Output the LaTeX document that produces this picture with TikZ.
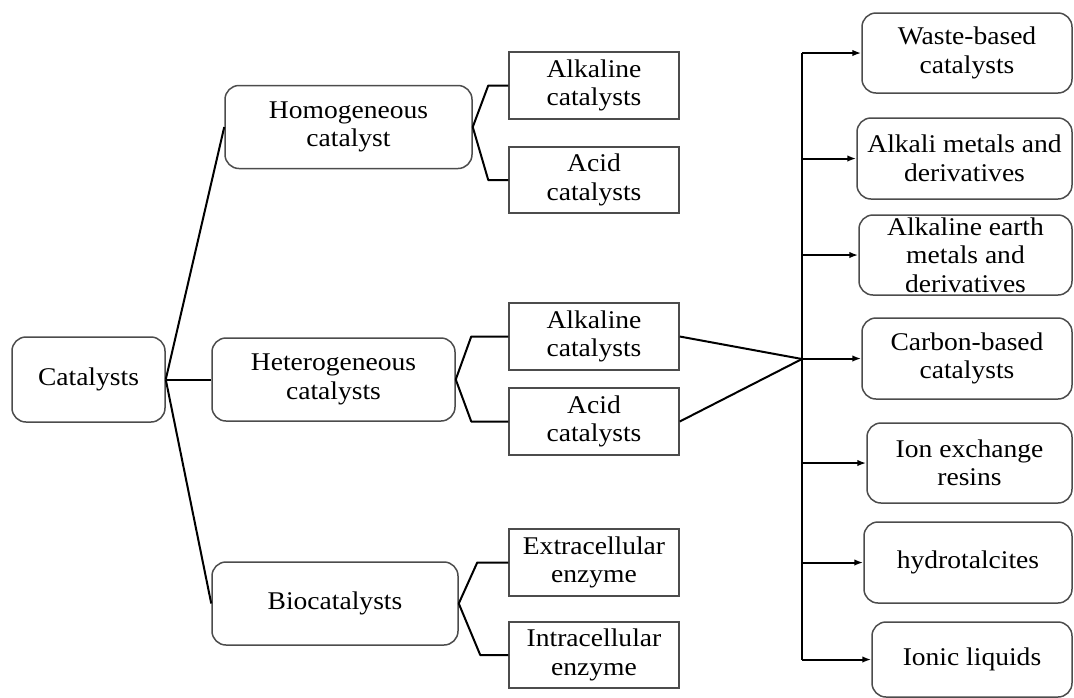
\documentclass[tikz,border=0pt]{standalone}
\usepackage{fontspec}
\setmainfont{Liberation Serif}[FakeStretch=1.08]
\usetikzlibrary{arrows.meta}
\begin{document}
\begin{tikzpicture}[x=1pt,y=-1pt,
  every node/.style={font=\fontsize{25.5}{28.5}\selectfont, align=center, inner sep=0pt},
  rbox/.style={draw=black!70, line width=1.5pt, rounded corners=14pt},
  sbox/.style={draw=black!70, line width=1.5pt},
  conn/.style={line width=2pt, draw=black, line join=round},
  arr/.style={conn, -{Latex[length=9pt,width=6.5pt]}}]
\useasboundingbox (0,0) rectangle (1074,697);

% left level
\node[rbox, minimum width=153, minimum height=85] (cat) at (88.5,379.5) {Catalysts};
\node[rbox, minimum width=247, minimum height=83] (homo) at (348.5,127) {Homogeneous\\catalyst};
\node[rbox, minimum width=243, minimum height=83] (hetero) at (333.5,379.5) {Heterogeneous\\catalysts};
\node[rbox, minimum width=246, minimum height=83] (bio) at (335,603.5) {Biocatalysts};

% second level
\node[sbox, minimum width=170, minimum height=67] (alk1) at (594,85.5) {Alkaline\\catalysts};
\node[sbox, minimum width=170, minimum height=66] (acid1) at (594,180) {Acid\\catalysts};
\node[sbox, minimum width=170, minimum height=67] (alk2) at (594,336.5) {Alkaline\\catalysts};
\node[sbox, minimum width=170, minimum height=67] (acid2) at (594,421.5) {Acid\\catalysts};
\node[sbox, minimum width=170, minimum height=67] (extra) at (594,562.5) {Extracellular\\enzyme};
\node[sbox, minimum width=170, minimum height=66] (intra) at (594,655) {Intracellular\\enzyme};

% right column
\node[rbox, minimum width=210, minimum height=80] (waste) at (967,53) {Waste-based\\catalysts};
\node[rbox, minimum width=215, minimum height=81] (alkali) at (964.5,158.5) {Alkali metals and\\derivatives};
\node[rbox, minimum width=213, minimum height=80] (earth) at (965.5,255) {Alkaline earth\\metals and\\derivatives};
\node[rbox, minimum width=210, minimum height=81] (carbon) at (967,358.5) {Carbon-based\\catalysts};
\node[rbox, minimum width=205, minimum height=80] (ion) at (969.5,463) {Ion exchange\\resins};
\node[rbox, minimum width=208, minimum height=81] (hydro) at (968,562.5) {hydrotalcites};
\node[rbox, minimum width=200, minimum height=75] (ionic) at (972,659.5) {Ionic liquids};

% connectors from Catalysts
\draw[conn] (cat.east) -- (homo.west);
\draw[conn] (cat.east) -- (hetero.west);
\draw[conn] (cat.east) -- (bio.west);

% brackets
\draw[conn] (alk1.west) -- ++(-20,0) -- (homo.east) -- ([xshift=-20pt]acid1.west) -- (acid1.west);
\draw[conn] (alk2.west) -- ++(-37,0) -- (hetero.east) -- ([xshift=-37pt]acid2.west) -- (acid2.west);
\draw[conn] (extra.west) -- ++(-31,0) -- (bio.east) -- ([xshift=-28pt]intra.west) -- (intra.west);

% hub and trunk
\coordinate (hub) at (802,359);
\draw[conn] (alk2.east) -- (hub);
\draw[conn] (acid2.east) -- (hub);
\draw[conn] (hub |- waste.west) -- (hub |- ionic.west);
\foreach \n in {waste,alkali,earth,carbon,ion,hydro,ionic}
  \draw[arr] (hub |- \n.west) -- (\n.west);
\end{tikzpicture}
\end{document}
